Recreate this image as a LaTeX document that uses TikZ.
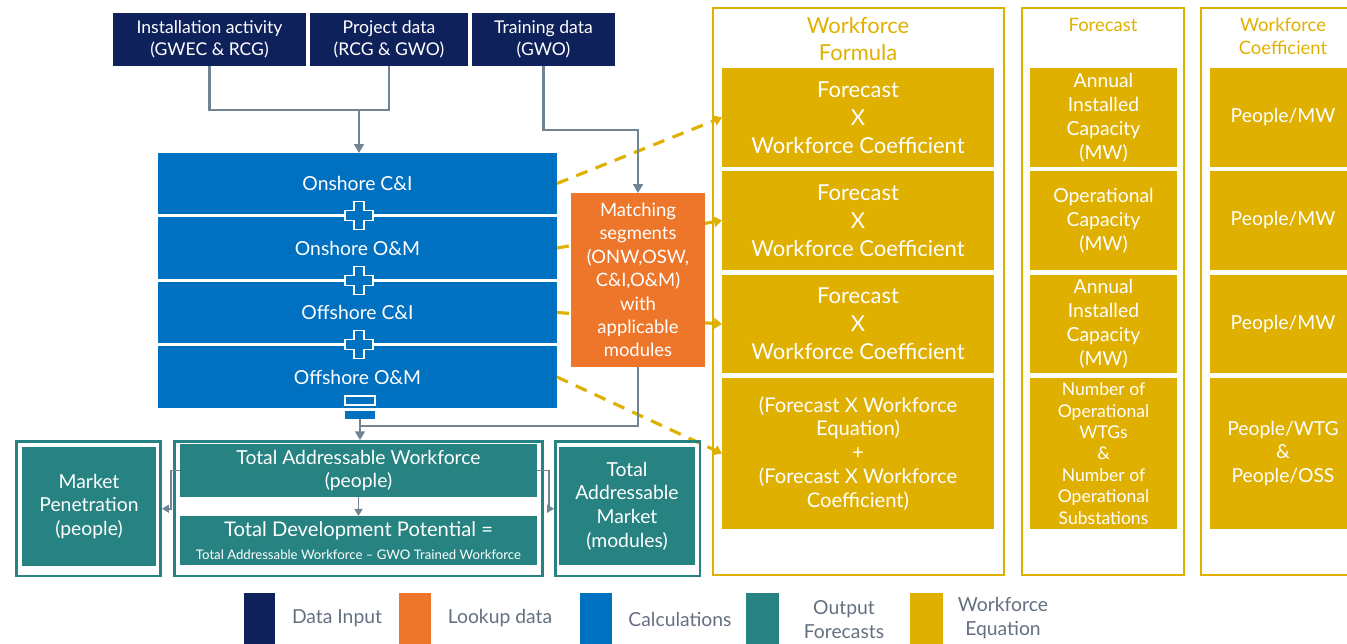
\documentclass[tikz,border=0pt]{standalone}
\usepackage{fontspec}
\setmainfont{Lato}
\usetikzlibrary{arrows.meta}
\definecolor{navy}{RGB}{15,33,90}
\definecolor{calcblue}{RGB}{0,112,192}
\definecolor{lookup}{RGB}{237,118,42}
\definecolor{outteal}{RGB}{38,131,129}
\definecolor{gold}{RGB}{224,176,0}
\definecolor{linkgray}{RGB}{112,132,148}
\definecolor{legendgray}{RGB}{100,112,128}
% box from its two corners, named
\def\cell[#1](#2)(#3,#4)(#5,#6)#7{\node[#1, minimum width={(#5-#3)*0.02cm}, minimum height={(#6-#4)*0.02cm}] (#2) at ({(#3+#5)/2},{(#4+#6)/2}) {#7};}
\def\plussign(#1,#2){\draw[plusmark, shift={(#1,#2)}] (-5,-14) -- (5,-14) -- (5,-5) -- (14,-5) -- (14,5) -- (5,5) -- (5,14) -- (-5,14) -- (-5,5) -- (-14,5) -- (-14,-5) -- (-5,-5) -- cycle;}
\tikzset{
	cellbase/.style={inner sep=0pt, outer sep=0pt, align=center, text=white},
	datain/.style={cellbase, fill=navy, font=\fontsize{10}{12.5}\selectfont},
	calcband/.style={cellbase, fill=calcblue, font=\fontsize{11}{13}\selectfont},
	lookupbox/.style={cellbase, fill=lookup, font=\fontsize{10.5}{13.3}\selectfont},
	eqnbox/.style={cellbase, fill=gold, font=\fontsize{12.5}{15.9}\selectfont},
	outbox/.style={cellbase, fill=outteal, font=\fontsize{11}{13.4}\selectfont},
	outframe/.style={inner sep=0pt, draw=outteal, line width=1.6pt},
	colframe/.style={inner sep=0pt, draw=gold, line width=0.9pt},
	coltitle/.style={inner sep=0pt, align=center, text=gold},
	link/.style={draw=linkgray, line width=1.6pt, -{Triangle[width=5.5pt,length=5pt]}},
	sidelink/.style={draw=linkgray, line width=1.1pt, -{Triangle[width=4.5pt,length=4pt]}},
	weq/.style={draw=gold, line width=1.8pt, dash pattern=on 6.8pt off 5pt, -{Triangle[width=6pt,length=4.5pt]}},
	plusmark/.style={fill=calcblue, draw=white, line width=0.8pt},
	legendtext/.style={inner sep=0pt, align=center, text=legendgray, font=\fontsize{11}{13.6}\selectfont},
}
\begin{document}
\begin{tikzpicture}[x=0.02cm, y=-0.02cm]
	%%%%% START %%%%%
	\clip (0,0) rectangle (1347,644);
	
	% data inputs
	\cell[datain](install)(113,13)(306,66){Installation activity\\(GWEC \& RCG)}
	\cell[datain](project)(310,13)(468,66){Project data\\(RCG \& GWO)}
	\cell[datain](training)(472,13)(615,66){Training data\\(GWO)}
	
	% calculation bands
	\cell[calcband](onCI)(158,153)(557,214){Onshore C\&I}
	\cell[calcband](onOM)(158,217)(557,279){Onshore O\&M}
	\cell[calcband](offCI)(158,282)(557,343){Offshore C\&I}
	\cell[calcband](offOM)(158,346)(557,408){Offshore O\&M}
	\plussign(359,215.5)
	\plussign(359,280.5)
	\plussign(359,344.5)
	\cell[fill=calcblue, draw=white, line width=0.8pt, inner sep=0pt](minusbar)(345,396)(375,405){}
	\cell[fill=calcblue, inner sep=0pt](minus)(345,411)(375,419){}
	
	% workforce formula column
	\cell[colframe](formcol)(713,8)(1004,575){}
	\node[coltitle, font=\fontsize{12.5}{15.9}\selectfont] (formtitle) at (858,39) {Workforce\\Formula};
	\cell[eqnbox](f1)(722,68)(994,167){Forecast\\X\\Workforce Coefficient}
	\cell[eqnbox](f2)(722,171)(994,270){Forecast\\X\\Workforce Coefficient}
	\cell[eqnbox](f3)(722,275)(994,373){Forecast\\X\\Workforce Coefficient}
	\cell[eqnbox, font=\fontsize{11.5}{13.6}\selectfont](f4)(722,378)(994,529){(Forecast X Workforce\\Equation)\\+\\(Forecast X Workforce\\Coefficient)}
	
	% forecast column
	\cell[colframe](fccol)(1022,8)(1184,575){}
	\node[coltitle, font=\fontsize{10.5}{13}\selectfont] (fctitle) at (1103,25) {Forecast};
	\cell[eqnbox, font=\fontsize{11}{13.6}\selectfont](c1)(1030,68)(1177,167){Annual\\Installed\\Capacity\\(MW)}
	\cell[eqnbox, font=\fontsize{11}{13.6}\selectfont](c2)(1030,171)(1177,270){Operational\\Capacity\\(MW)}
	\cell[eqnbox, font=\fontsize{11}{13.6}\selectfont](c3)(1030,275)(1177,373){Annual\\Installed\\Capacity\\(MW)}
	\cell[eqnbox, font=\fontsize{10}{12.2}\selectfont](c4)(1030,378)(1177,529){Number of\\Operational\\WTGs\\\&\\Number of\\Operational\\Substations}
	
	% coefficient column
	\cell[colframe](cfcol)(1201,8)(1365,575){}
	\node[coltitle, font=\fontsize{10.5}{13}\selectfont] (cftitle) at (1283,36) {Workforce\\Coefficient};
	\cell[eqnbox, font=\fontsize{11}{13.4}\selectfont](k1)(1210,68)(1356,167){People/MW}
	\cell[eqnbox, font=\fontsize{11}{13.4}\selectfont](k2)(1210,171)(1356,270){People/MW}
	\cell[eqnbox, font=\fontsize{11}{13.4}\selectfont](k3)(1210,275)(1356,373){People/MW}
	\cell[eqnbox, font=\fontsize{11}{13.4}\selectfont](k4)(1210,378)(1356,529){People/WTG\\\&\\People/OSS}
	
	% segments feed the formulas
	\draw[weq] (onCI.east) -- (f1.west);
	\draw[weq] (onOM.east) -- (f2.west);
	\draw[weq] (offCI.east) -- (f3.west);
	\draw[weq] (offOM.east) -- (f4.west);
	
	% lookup
	\cell[lookupbox](match)(571,193)(705,367){Matching\\segments\\(ONW,OSW,\\C\&I,O\&M)\\with\\applicable\\modules}
	
	% outputs
	\cell[outframe](penframe)(16.5,441.5)(160.5,576){}
	\cell[outbox](penetration)(22,447)(156,566){Market\\Penetration\\(people)}
	\cell[outframe](midframe)(174.5,441.5)(542.5,576){}
	\cell[outbox](taw)(180,444)(537,497){Total Addressable Workforce\\(people)}
	\cell[outbox](tdp)(180,516)(537,565){{\fontsize{11.5}{14}\selectfont Total Development Potential =}\\{\fontsize{7.5}{9}\selectfont Total Addressable Workforce -- GWO Trained Workforce}}
	\cell[outframe](tamframe)(555.5,441.5)(700,576){}
	\cell[outbox](tam)(559,447)(695,565){Total\\Addressable\\Market\\(modules)}
	
	% connectors
	\coordinate (merge) at (359,110);
	\coordinate (join) at (360,426);
	\draw[link, -] (install.south) |- (merge) -| (project.south);
	\draw[link] (merge) -- (merge |- onCI.north);
	\draw[link] (training.south) -- ++(0,64) -| (match.north);
	\draw[link, -] (match.south) |- (join);
	\draw[link] (minus.south) -- (minus.south |- midframe.north);
	\draw[sidelink] (taw.west) -- ++(-9,0) |- (penframe.east);
	\draw[sidelink] (taw.east) -- ++(12,0) |- (tamframe.west);
	\draw[sidelink] (taw.south) -- (tdp.north);
	
	% legend
	\cell[fill=navy, inner sep=0pt](lgInput)(244,593)(275,650){}
	\node[legendtext] (lgInputText) at (337,618) {Data Input};
	\cell[fill=lookup, inner sep=0pt](lgLookup)(399,593)(431,650){}
	\node[legendtext] (lgLookupText) at (500,618) {Lookup data};
	\cell[fill=calcblue, inner sep=0pt](lgCalc)(580,593)(612,650){}
	\node[legendtext] (lgCalcText) at (680,619) {Calculations};
	\cell[fill=outteal, inner sep=0pt](lgOut)(746,593)(779,650){}
	\node[legendtext] (lgOutText) at (844,620) {Output\\Forecasts};
	\cell[fill=gold, inner sep=0pt](lgEqn)(910,593)(943,650){}
	\node[legendtext] (lgEqnText) at (1003,618) {Workforce\\Equation};
	
	%%%%% END %%%%%
\end{tikzpicture}
\end{document}
